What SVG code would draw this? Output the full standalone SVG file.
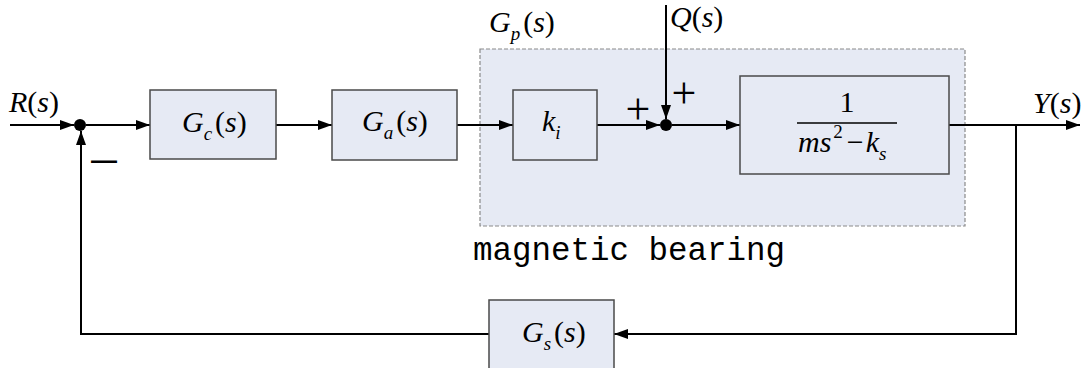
<svg xmlns="http://www.w3.org/2000/svg" width="1088" height="368" viewBox="0 0 1088 368">
<style>
.blk{fill:#E6EAF4;stroke:#4a4a4a;stroke-width:1.5}
.grp{fill:#E6EAF4;stroke:#8a8a8a;stroke-width:1.2;stroke-dasharray:4 2}
.ln{fill:none;stroke:#000;stroke-width:2}
.m{font-family:"Liberation Serif","Times New Roman",serif;font-size:30px;fill:#000}
.i{font-style:italic}
.sub{font-style:italic;font-size:19px}
.sg{font-family:"Liberation Serif","Times New Roman",serif;font-size:44px;fill:#000;text-anchor:middle}
.mn{font-family:"Liberation Sans",Arial,sans-serif;font-size:26px;font-weight:bold;fill:#000}
.lbl{font-family:"Liberation Mono","Courier New",monospace;font-size:34px;fill:#000}
</style>
<defs>
<marker id="ah" viewBox="0 0 14 10" refX="14" refY="5" markerWidth="14" markerHeight="10" markerUnits="userSpaceOnUse" orient="auto">
<path d="M0,0 L14,5 L0,10 Z" fill="#000"/>
</marker>
</defs>
<g id="plant-group">
<rect class="grp" x="480" y="49" width="485" height="177"/>
<text class="m" x="489" y="32"><tspan class="i">G</tspan><tspan class="sub" dy="8">p</tspan><tspan dy="-8" dx="3">(</tspan><tspan class="i">s</tspan>)</text>
<text class="lbl" x="473" y="260" textLength="312" lengthAdjust="spacingAndGlyphs">magnetic bearing</text>
</g>
<g id="connectors">
<line class="ln" x1="10" y1="125" x2="74" y2="125" marker-end="url(#ah)"/>
<line class="ln" x1="86" y1="125" x2="150" y2="125" marker-end="url(#ah)"/>
<line class="ln" x1="276" y1="125" x2="332" y2="125" marker-end="url(#ah)"/>
<line class="ln" x1="457" y1="125" x2="513" y2="125" marker-end="url(#ah)"/>
<line class="ln" x1="597" y1="125" x2="660" y2="125" marker-end="url(#ah)"/>
<line class="ln" x1="666" y1="5" x2="666" y2="119" marker-end="url(#ah)"/>
<line class="ln" x1="672" y1="125" x2="740" y2="125" marker-end="url(#ah)"/>
<line class="ln" x1="949" y1="125" x2="1080" y2="125" marker-end="url(#ah)"/>
<polyline class="ln" points="1016,125 1016,334 614,334" marker-end="url(#ah)"/>
<polyline class="ln" points="489,334 81,334 81,131" marker-end="url(#ah)"/>
</g>
<g id="sum1">
<circle cx="80" cy="125" r="6" fill="#000"/>
<text class="mn" x="91" y="169">—</text>
</g>
<g id="sum2">
<circle cx="666" cy="125" r="6" fill="#000"/>
<text class="sg" x="638" y="124">+</text>
<text class="sg" x="684" y="108">+</text>
</g>
<g id="input-label">
<text class="m" x="9" y="112"><tspan class="i">R</tspan>(<tspan class="i">s</tspan>)</text>
</g>
<g id="disturbance-label">
<text class="m" x="670" y="27"><tspan class="i">Q</tspan>(<tspan class="i">s</tspan>)</text>
</g>
<g id="output-label">
<text class="m" x="1033" y="113"><tspan class="i">Y</tspan>(<tspan class="i">s</tspan>)</text>
</g>
<g id="Gc">
<rect class="blk" x="150" y="90" width="126" height="69"/>
<text class="m" x="182" y="132"><tspan class="i">G</tspan><tspan class="sub" dy="8">c</tspan><tspan dy="-8" dx="3">(</tspan><tspan class="i">s</tspan>)</text>
</g>
<g id="Ga">
<rect class="blk" x="332" y="90" width="125" height="70"/>
<text class="m" x="362" y="131"><tspan class="i">G</tspan><tspan class="sub" dy="8">a</tspan><tspan dy="-8" dx="3">(</tspan><tspan class="i">s</tspan>)</text>
</g>
<g id="ki">
<rect class="blk" x="513" y="90" width="84" height="70"/>
<text class="m" x="542" y="131"><tspan class="i">k</tspan><tspan class="sub" dy="8">i</tspan></text>
</g>
<g id="plant">
<rect class="blk" x="740" y="76" width="209" height="98"/>
<text class="m" x="847" y="112" text-anchor="middle">1</text>
<line x1="797" y1="123" x2="897" y2="123" stroke="#000" stroke-width="1.5"/>
<text class="m" x="798" y="152"><tspan class="i">m</tspan><tspan class="i">s</tspan><tspan font-size="19" dy="-14" dx="2">2</tspan><tspan dy="14" dx="4">−</tspan><tspan class="i" dx="2">k</tspan><tspan class="sub" dy="8">s</tspan></text>
</g>
<g id="Gs">
<rect class="blk" x="489" y="300" width="125" height="75"/>
<text class="m" x="522" y="342"><tspan class="i">G</tspan><tspan class="sub" dy="8">s</tspan><tspan dy="-8" dx="3">(</tspan><tspan class="i">s</tspan>)</text>
</g>
</svg>
